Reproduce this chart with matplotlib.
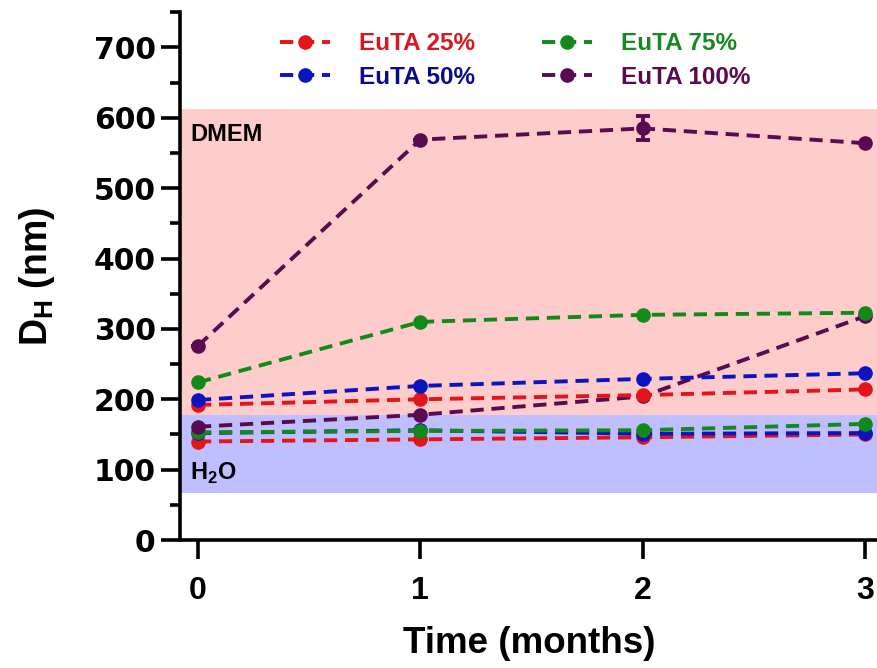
import matplotlib
matplotlib.use("Agg")
import matplotlib.pyplot as plt
from matplotlib.ticker import MultipleLocator

plt.rcParams['font.family'] = ['Liberation Sans', 'DejaVu Sans']
plt.rcParams['font.weight'] = 'bold'
plt.rcParams['mathtext.fontset'] = 'custom'
plt.rcParams['mathtext.bf'] = 'Liberation Sans:bold'
plt.rcParams['mathtext.rm'] = 'Liberation Sans:bold'

time = [0, 1, 2, 3]
labels = ["EuTA 25%", "EuTA 50%", "EuTA 75%", "EuTA 100%"]
colors = ["#E5141A", "#0A14C0", "#13891A", "#5A0A50"]
text_colors = ["#D9181E", "#0A0A8F", "#168A1E", "#5A0A4F"]

# DMEM series
dmem_25 = [192, 200, 206, 214]
dmem_50 = [199, 219, 229, 237]
dmem_75 = [224, 310, 320, 323]
dmem_100 = [276, 569, 585, 564]
dmem_100_err = [0, 0, 17, 0]
# H2O series
h2o_25 = [140, 143, 146, 150]
h2o_50 = [152, 156, 151, 152]
h2o_75 = [153, 155, 156, 165]
h2o_100 = [161, 178, 204, 318]

dmem = [dmem_25, dmem_50, dmem_75, dmem_100]
h2o = [h2o_25, h2o_50, h2o_75, h2o_100]

dmem_band = (177, 612)
h2o_band = (67, 177)

fig = plt.figure(figsize=(8.78, 6.68), dpi=100)
ax = fig.add_axes([0.205, 0.1916, 0.795, 0.79])

ax.axhspan(*dmem_band, color="#FFCCCC", zorder=0, lw=0)
ax.axhspan(*h2o_band, color="#BFBFFF", zorder=0, lw=0)

dash = (0, (3.4, 2.0))
handles = []
for i in range(4):
    ax.plot(time, h2o[i], ls=dash, lw=2.8, color=colors[i],
            marker='o', ms=9.5, clip_on=False, zorder=3)
for i in range(4):
    if i == 3:
        ax.errorbar(time, dmem[i], yerr=dmem_100_err, ls='none', color=colors[i],
                    capsize=5, capthick=2.8, elinewidth=2.8, zorder=3)
    h, = ax.plot(time, dmem[i], ls=dash, lw=2.8, color=colors[i],
                 marker='o', ms=9.5, clip_on=False, zorder=3)
    handles.append(h)

ax.text(-0.036, 577, "DMEM", fontsize=17, fontweight='bold', va='center', ha='left')
ax.text(-0.036, 95, "H$_\\mathbf{2}$O", fontsize=17, fontweight='bold', va='center', ha='left')

ax.set_xlim(-0.081, 3.059)
ax.set_ylim(0, 750)
ax.set_xticks(time)
ax.yaxis.set_major_locator(MultipleLocator(100))
ax.yaxis.set_minor_locator(MultipleLocator(50))
ax.set_yticks(range(0, 701, 100))

for s in ["top", "right"]:
    ax.spines[s].set_visible(False)
for s in ["left", "bottom"]:
    ax.spines[s].set_linewidth(2.6)

ax.tick_params(axis='both', which='major', length=14, width=2.6)
ax.tick_params(axis='y', which='minor', length=7.5, width=2.6)
ax.tick_params(axis='y', which='major', pad=3.5)
ax.tick_params(axis='x', which='major', pad=12)
for lab in ax.get_yticklabels():
    lab.set_fontweight('bold')
    lab.set_family('DejaVu Sans')
    lab.set_fontsize(21.5)
for lab in ax.get_xticklabels():
    lab.set_fontweight('bold')
    lab.set_fontsize(23)

ax.set_xlabel("Time (months)", fontsize=26.5, fontweight='bold', labelpad=14)
ax.set_ylabel("D$_\\mathbf{H}$ (nm)", fontsize=27, fontweight='bold', labelpad=26)

leg = ax.legend(handles, labels, ncol=2, loc='upper left', bbox_to_anchor=(0.112, 1.004),
                frameon=False, handlelength=2.05, columnspacing=2.75,
                handletextpad=1.2, labelspacing=0.45,
                prop={'family': 'Liberation Sans', 'weight': 'bold', 'size': 17.5})
for t, c in zip(leg.get_texts(), text_colors):
    t.set_color(c)

fig.savefig("out.png", dpi=100)
